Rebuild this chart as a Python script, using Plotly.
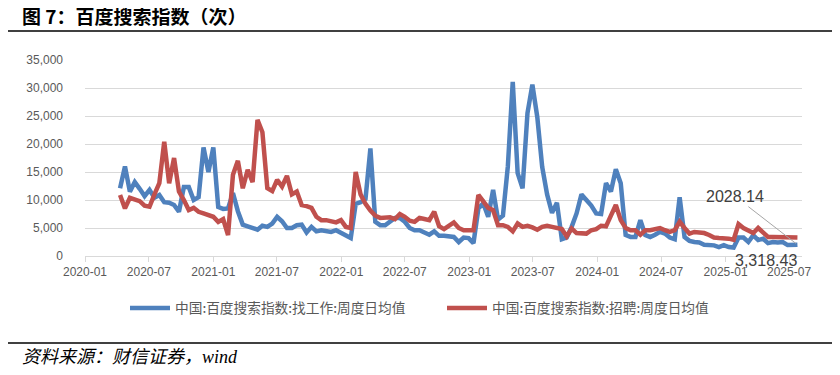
import pandas as pd
import plotly.graph_objects as go

# Biweekly observation dates (start, count)
start_date = "2020-04-10"
n_points = 139

# 中国:百度搜索指数:找工作:周度日均值
job_search = [
    12100, 16000, 11500, 13200, 12000, 10700, 11800, 10400, 10900, 9600,
    9500, 9100, 7900, 12300, 12300, 10000, 10500, 19400, 15000, 19400,
    8750, 8400, 8500, 11250, 8000, 5600, 5300, 5000, 4700, 5400,
    5200, 5800, 7000, 6200, 5000, 5000, 5500, 5600, 4200, 5200,
    4400, 4600, 4500, 4300, 4600, 4100, 3750, 3200, 9300, 9600,
    10200, 19200, 6100, 5500, 5500, 6100, 6800, 6800, 6100, 5000,
    4600, 4600, 4300, 3800, 4400, 3600, 3600, 3400, 3400, 2500,
    3300, 3200, 2300, 8500, 9400, 7000, 11800, 6500, 7200, 16000,
    31100, 14800, 12100, 25500, 30600, 24800, 15900, 11000, 7700, 9500,
    3000, 3300, 5200, 7600, 11000, 10000, 9000, 7600, 7500, 13000,
    11500, 15500, 13000, 3750, 3400, 3400, 6400, 3750, 3400, 3800,
    4300, 4000, 3300, 3000, 10500, 3400, 2700, 2500, 2400, 2000,
    2000, 1900, 1600, 1950, 1600, 1500, 3300, 3300, 2500, 3700,
    2850, 3100, 2300, 2500, 2400, 2500, 1950, 1950, 2028.14,
]

# 中国:百度搜索指数:招聘:周度日均值
recruit = [
    10900, 8500, 10400, 10100, 9800, 9000, 8800, 11000, 13000, 20400,
    13000, 17500, 11500, 10000, 8200, 8600, 7900, 7600, 7300, 7000,
    6100, 6600, 3750, 14500, 17000, 12100, 15400, 13200, 24300, 22100,
    12100, 11600, 13600, 12400, 14300, 11000, 11500, 9100, 8900, 8600,
    7000, 6400, 6400, 6300, 6000, 6400, 5200, 5000, 15000, 11000,
    9300, 8100, 7200, 6800, 6900, 6900, 6600, 7500, 7000, 6300,
    6100, 6800, 6600, 6400, 7900, 5300, 4800, 5500, 6000, 5000,
    4600, 4600, 4600, 10900, 9600, 8600, 8200, 5500, 5500, 5200,
    4400, 5800, 5200, 5400, 5100, 4700, 5200, 5400, 5200, 5000,
    4800, 3500, 4900, 4100, 4100, 4000, 4600, 4800, 5400, 5300,
    7200, 9100, 6400, 5000, 4600, 4600, 3800, 4600, 4600, 4700,
    5000, 4600, 4300, 4600, 6100, 5000, 4000, 4300, 4200, 4100,
    3750, 3300, 3200, 3200, 3100, 2900, 5700, 5000, 4600, 4100,
    5000, 4300, 3400, 3400, 3400, 3400, 3400, 3200, 3318.43,
]

series_names = ["中国:百度搜索指数:找工作:周度日均值", "中国:百度搜索指数:招聘:周度日均值"]
series_colors = ["#4F81BD", "#C0504D"]
title_text = "图 7：百度搜索指数（次）"
source_text = "资料来源：财信证券，wind"

dates = pd.date_range(start_date, periods=n_points, freq="14D")

fig = go.Figure()
for name, vals, col in zip(series_names, [job_search, recruit], series_colors):
    fig.add_trace(go.Scatter(
        x=dates, y=vals, mode="lines", name=name,
        line=dict(color=col, width=4.5), hoverinfo="skip",
    ))

# The page body has an 8px margin: figure pixel = page pixel - 8
OFF = 8
W, H = 840 - OFF, 375 - OFF
L, R, T, B = 85 - OFF, 802 - OFF, 60 - OFF, 256 - OFF

def px(page_x):
    return (page_x - OFF - L) / (R - L)

def py(page_y):
    return (B - (page_y - OFF)) / (B - T)

tick_font = dict(family="Liberation Sans, Arial, sans-serif", size=12, color="#595959")

fig.update_layout(
    width=W, height=H,
    margin=dict(l=L, r=W - R, t=T, b=H - B),
    paper_bgcolor="white", plot_bgcolor="white",
    showlegend=True,
    legend=dict(
        orientation="h", x=px(125), xanchor="left", y=py(308), yanchor="middle",
        font=dict(family="Noto Sans CJK SC, sans-serif", size=13.7, color="#595959"),
        itemwidth=40, entrywidth=262, bgcolor="rgba(0,0,0,0)",
    ),
    xaxis=dict(
        type="date",
        range=["2020-01-01", "2025-08-07"],
        tick0="2020-01-01", dtick="M6", tickformat="%Y-%m",
        showgrid=False, showline=True, linecolor="#D9D9D9", linewidth=1,
        ticks="outside", ticklen=5, tickcolor="#D9D9D9",
        tickfont=tick_font, zeroline=False,
    ),
    yaxis=dict(
        range=[0, 35000], dtick=5000, tickformat=",",
        showgrid=True, gridcolor="#D9D9D9", gridwidth=1,
        zeroline=False, showline=False, ticks="",
        tickfont=tick_font, ticklabelstandoff=21,
    ),
)

# Title and source text
fig.add_annotation(
    xref="paper", yref="paper", x=px(20), y=py(16), xanchor="left", yanchor="middle",
    text="<b>" + title_text + "</b>", showarrow=False,
    font=dict(family="Noto Sans CJK SC, sans-serif", size=19, color="#000000"),
)
fig.add_annotation(
    xref="paper", yref="paper", x=px(20), y=py(357), xanchor="left", yanchor="middle",
    text=source_text, showarrow=False,
    font=dict(family="Liberation Serif, Noto Sans CJK SC, serif", size=18, color="#000000", style="italic"),
)

# Horizontal rules
fig.add_shape(type="line", xref="paper", yref="paper", x0=px(5), x1=px(835), y0=py(31), y1=py(31),
              line=dict(color="#000000", width=1.5))
fig.add_shape(type="line", xref="paper", yref="paper", x0=px(5), x1=px(835), y0=py(343), y1=py(343),
              line=dict(color="#000000", width=1.5))

# Data labels for last values
fig.add_annotation(
    x=dates[-1], y=job_search[-1], text=f"{job_search[-1]:.2f}",
    showarrow=True, arrowhead=0, arrowwidth=1, arrowcolor="#A6A6A6",
    ax=-62, ay=-48, standoff=2,
    font=dict(family="Liberation Sans, Arial, sans-serif", size=16, color="#404040"),
)
fig.add_annotation(
    x=dates[-1], y=recruit[-1], text=f"{recruit[-1]:,.2f}",
    showarrow=False, xanchor="right", yanchor="middle", yshift=-23, xshift=2,
    font=dict(family="Liberation Sans, Arial, sans-serif", size=16, color="#404040"),
)

fig.write_html("out.html")
